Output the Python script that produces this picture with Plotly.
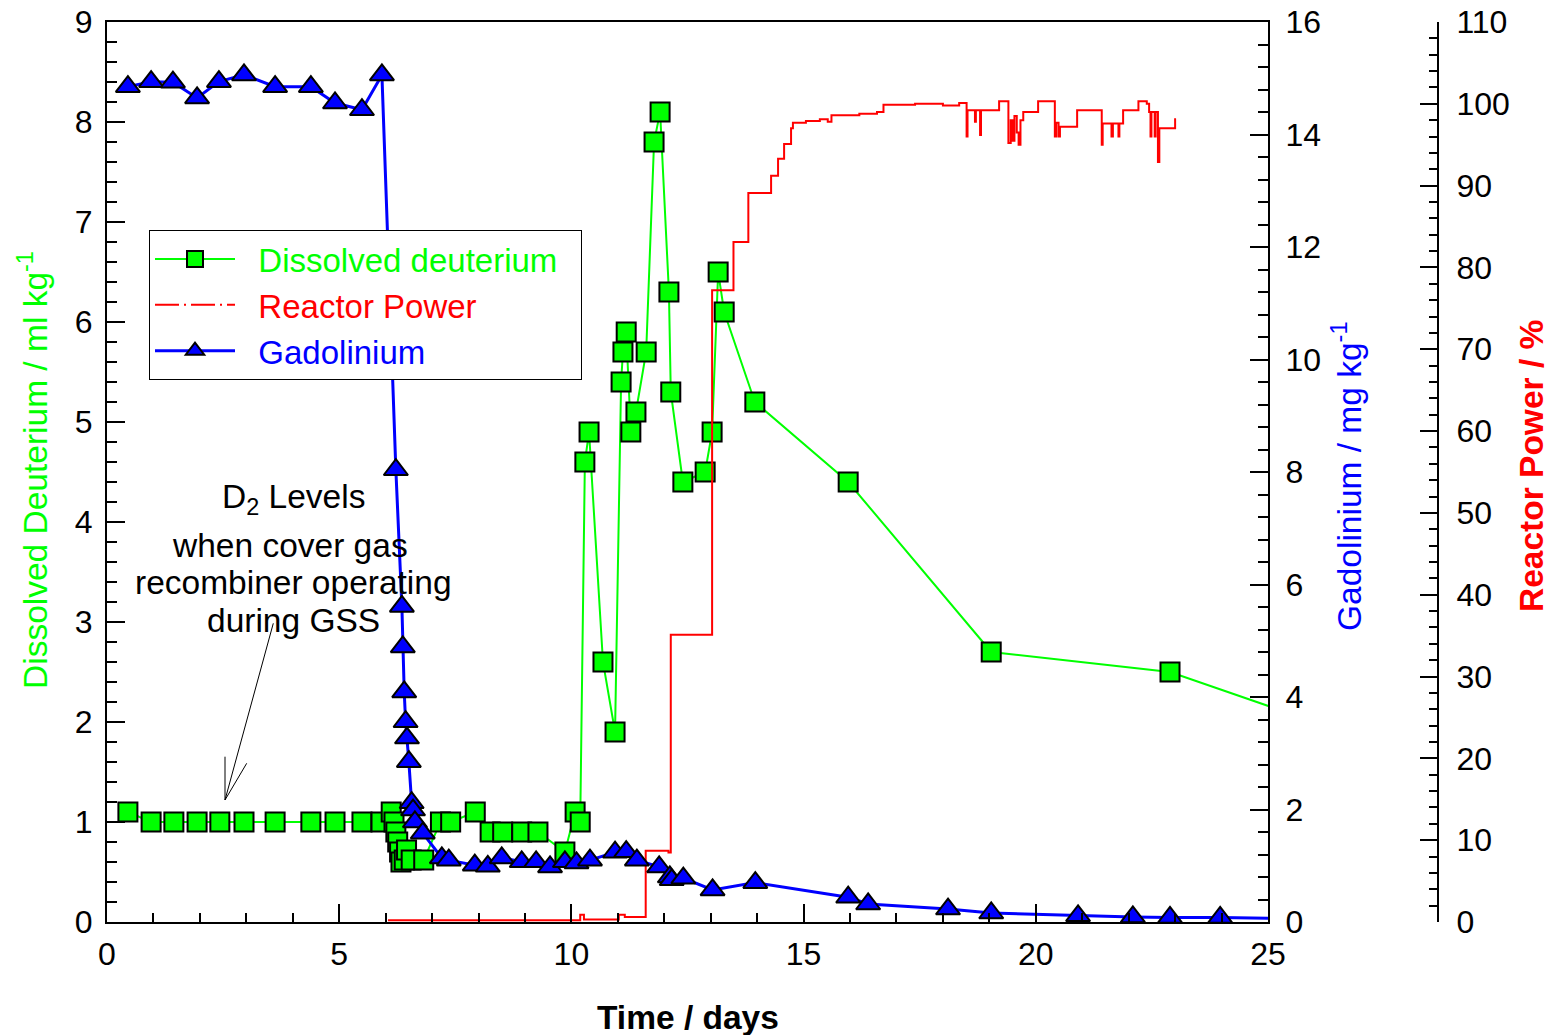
import plotly.graph_objects as go

# ---------------- data ----------------
d2_time = [0.45, 0.95, 1.44, 1.94, 2.43, 2.95, 3.62, 4.39, 4.91, 5.49, 5.90,
           6.12, 6.18, 6.22, 6.26, 6.30, 6.33, 6.40, 6.45, 6.55, 6.82,
           7.18, 7.40, 7.93, 8.25, 8.52, 8.93, 9.28, 9.86, 10.08, 10.19,
           10.29, 10.38, 10.68, 10.94, 11.07, 11.11, 11.18, 11.28, 11.39, 11.61,
           11.78, 11.91, 12.10, 12.14, 12.40, 12.88, 13.03, 13.16, 13.29, 13.95,
           15.96, 19.04, 22.89, 26.5]
d2_value = [1.1, 1.0, 1.0, 1.0, 1.0, 1.0, 1.0, 1.0, 1.0, 1.0, 1.0,
            1.1, 1.0, 0.9, 0.8, 0.7, 0.6, 0.62, 0.72, 0.62, 0.62,
            1.0, 1.0, 1.1, 0.9, 0.9, 0.9, 0.9, 0.7, 1.1, 1.0,
            4.6, 4.9, 2.6, 1.9, 5.4, 5.7, 5.9, 4.9, 5.1, 5.7,
            7.8, 8.1, 6.3, 5.3, 4.4, 4.5, 4.9, 6.5, 6.1, 5.2,
            4.4, 2.7, 2.5, 1.92]

gd_time = [0.45, 0.95, 1.42, 1.94, 2.41, 2.95, 3.62, 4.39, 4.91, 5.49, 5.92,
           6.22, 6.35, 6.37, 6.40, 6.43, 6.46, 6.50, 6.56, 6.59, 6.63, 6.80,
           7.21, 7.36, 7.92, 8.20, 8.50, 8.93, 9.24, 9.54, 9.86, 10.11,
           10.40, 10.94, 11.18, 11.41, 11.89, 12.12, 12.16, 12.41, 13.04, 13.96,
           15.96, 16.39, 18.11, 19.04, 20.91, 22.09, 22.89, 23.97, 26.0]
gd_value = [14.85, 14.94, 14.93, 14.65, 14.94, 15.06, 14.85, 14.85, 14.56, 14.44, 15.06,
            8.04, 5.61, 4.89, 4.09, 3.56, 3.27, 2.85, 2.12, 1.99, 1.78, 1.58,
            1.14, 1.10, 1.01, 0.99, 1.14, 1.07, 1.07, 0.98, 1.07, 1.05,
            1.10, 1.24, 1.25, 1.10, 0.98, 0.80, 0.75, 0.78, 0.57, 0.70,
            0.44, 0.32, 0.23, 0.16, 0.11, 0.09, 0.08, 0.08, 0.05]

power_time = [6.05, 10.19, 10.27, 11.02, 11.15, 11.60, 12.09, 12.14, 13.03, 13.49,
              13.81, 14.30, 14.45, 14.58, 14.73, 14.77, 15.05, 15.35, 15.52, 15.60,
              16.20, 16.58, 16.72, 17.40, 18.00, 18.35, 18.51, 18.53, 18.69, 18.71,
              18.80, 18.82, 19.21, 19.41, 19.46, 19.50, 19.54, 19.59, 19.63, 19.67,
              19.73, 20.05, 20.41, 20.44, 20.49, 20.52, 20.89, 21.42, 21.44, 21.63,
              21.66, 21.78, 21.80, 21.88, 22.21, 22.39, 22.44, 22.47, 22.49, 22.56,
              22.58, 22.63, 22.66, 23.00, 23.02]
power_value = [0.2, 0.9, 0.3, 0.9, 0.6, 8.7, 8.5, 35.1, 77.2, 83.1,
               89.1, 91.2, 93.3, 95.1, 97.0, 97.7, 97.9, 98.1, 97.8, 98.6,
               98.8, 99.0, 99.9, 100.0, 99.8, 100.1, 96.0, 99.2, 97.8, 99.2,
               96.2, 99.2, 100.3, 95.2, 98.0, 95.5, 98.5, 96.5, 95.0, 98.0,
               99.0, 100.3, 96.0, 97.7, 96.0, 97.2, 99.2, 95.0, 97.6, 96.0,
               97.6, 96.0, 97.6, 99.2, 100.3, 100.0, 99.0, 96.0, 99.0, 96.0,
               99.0, 92.9, 97.0, 98.1, 98.1]

x_ticks = [0, 5, 10, 15, 20, 25]

FONT = "Liberation Sans, Arial, sans-serif"
GREEN = "#00ff00"
RED = "#ff0000"
BLUE = "#0000ff"
TXT = 33.5
TICK = 32

fig = go.Figure()

fig.add_trace(go.Scatter(
    x=d2_time, y=d2_value, mode="lines+markers",
    name="&nbsp;&nbsp;<span style='color:#00ff00'>Dissolved deuterium</span>&nbsp;&nbsp;",
    line=dict(color=GREEN, width=2),
    marker=dict(symbol="square", size=19, color=GREEN, line=dict(color="black", width=2)),
    yaxis="y", legendrank=1))

fig.add_trace(go.Scatter(
    x=power_time, y=power_value, mode="lines", line_shape="hv",
    name="Reactor Power",
    line=dict(color=RED, width=2),
    yaxis="y2", showlegend=False))

fig.add_trace(go.Scatter(
    x=[None], y=[None], mode="lines",
    name="&nbsp;&nbsp;<span style='color:#ff0000'>Reactor Power</span>",
    line=dict(color=RED, width=2, dash="24px,5px,2px,5px"),
    yaxis="y2", legendrank=2))

fig.add_trace(go.Scatter(
    x=gd_time, y=gd_value, mode="lines+markers",
    name="&nbsp;&nbsp;<span style='color:#0000ff'>Gadolinium</span>",
    line=dict(color=BLUE, width=3),
    marker=dict(symbol="triangle-up", size=21, color=BLUE, line=dict(color="black", width=2)),
    yaxis="y3", legendrank=3))

# the page's body margin is removed below, so the figure fills the window
W, H = 1552, 1035
L, T = 107, 22
R = 10
B = H - 922
pw = W - L - R
ph = H - T - B
x_end = (1268 - 107) / pw
p_pos = (1438 - 107) / pw

common = dict(showline=True, linecolor="black", linewidth=2, ticks="inside",
              tickcolor="black", tickwidth=2, showgrid=False, zeroline=False,
              automargin=False, ticklabeloverflow="allow",
              tickfont=dict(family=FONT, size=TICK, color="black"))

fig.update_layout(
    width=W, height=H,
    margin=dict(l=L, r=R, t=T, b=B, autoexpand=False),
    paper_bgcolor="white", plot_bgcolor="white",
    font=dict(family=FONT, size=TXT, color="black"),
    showlegend=True,
    legend=dict(x=(149 - 107) / pw, y=(922 - 230) / ph, xanchor="left", yanchor="top",
                bordercolor="black", borderwidth=1, bgcolor="white",
                font=dict(family=FONT, size=33), tracegroupgap=0,
                itemwidth=80),
    xaxis=dict(range=[0, 25], domain=[0, x_end], tickvals=x_ticks, ticklen=18,
               mirror=True, ticklabelstandoff=3,
               minor=dict(dtick=1, ticklen=9, ticks="inside", tickcolor="black", tickwidth=2),
               **common),
    yaxis=dict(range=[0, 9], dtick=1, ticklen=18, ticklabelstandoff=6,
               minor=dict(dtick=0.2, ticklen=10, ticks="inside", tickcolor="black", tickwidth=2),
               **common),
    yaxis2=dict(range=[0, 110], dtick=10, ticklen=17, overlaying="y", side="right",
                anchor="free", position=p_pos, ticklabelstandoff=11,
                minor=dict(dtick=2, ticklen=8, ticks="inside", tickcolor="black", tickwidth=2),
                **common),
    yaxis3=dict(range=[0, 16], dtick=2, ticklen=18, overlaying="y", side="right",
                anchor="x", ticklabelstandoff=9,
                minor=dict(dtick=0.4, ticklen=10, ticks="inside", tickcolor="black", tickwidth=2),
                **common),
)

# positions below are given in window pixels
def px_x(px):
    return (px - 107) / pw

def px_y(py):
    return (922 - py) / ph

annots = [
    dict(text="<b>Time / days</b>", x=px_x(688), y=px_y(1017), font=dict(size=TXT, color="black", family=FONT)),
    dict(text="Dissolved Deuterium / ml kg<sup>-1</sup>", x=px_x(33), y=px_y(470),
         font=dict(size=TXT, color=GREEN, family=FONT), textangle=-90),
    dict(text="Gadolinium / mg kg<sup>-1</sup>", x=px_x(1347), y=px_y(477),
         font=dict(size=TXT, color=BLUE, family=FONT), textangle=-90),
    dict(text="<b>Reactor Power / %</b>", x=px_x(1532), y=px_y(466),
         font=dict(size=TXT, color=RED, family=FONT), textangle=-90),
    dict(text="D<sub>2</sub> Levels", x=px_x(293), y=px_y(499), font=dict(size=TXT, color="black", family=FONT)),
    dict(text="when cover gas", x=px_x(290), y=px_y(545), font=dict(size=TXT, color="black", family=FONT)),
    dict(text="recombiner operating", x=px_x(293), y=px_y(582), font=dict(size=TXT, color="black", family=FONT)),
    dict(text="during GSS", x=px_x(293), y=px_y(620), font=dict(size=TXT, color="black", family=FONT)),
]
for a in annots:
    fig.add_annotation(xref="paper", yref="paper", showarrow=False,
                       xanchor="center", yanchor="middle", **a)

# arrow pointing at the D2 level
arrow_lines = [
    ((273.3, 623.3), (225, 800)),
    ((225, 800), (225, 756.7)),
    ((225, 800), (246.7, 763.3)),
]
for (x0, y0), (x1, y1) in arrow_lines:
    fig.add_shape(type="line", xref="paper", yref="paper",
                  x0=px_x(x0), y0=px_y(y0), x1=px_x(x1), y1=px_y(y1),
                  line=dict(color="black", width=1))

fig.write_html("out.html",
               config={"displayModeBar": False},
               post_script="document.body.style.margin='0';document.body.style.overflow='hidden';")
